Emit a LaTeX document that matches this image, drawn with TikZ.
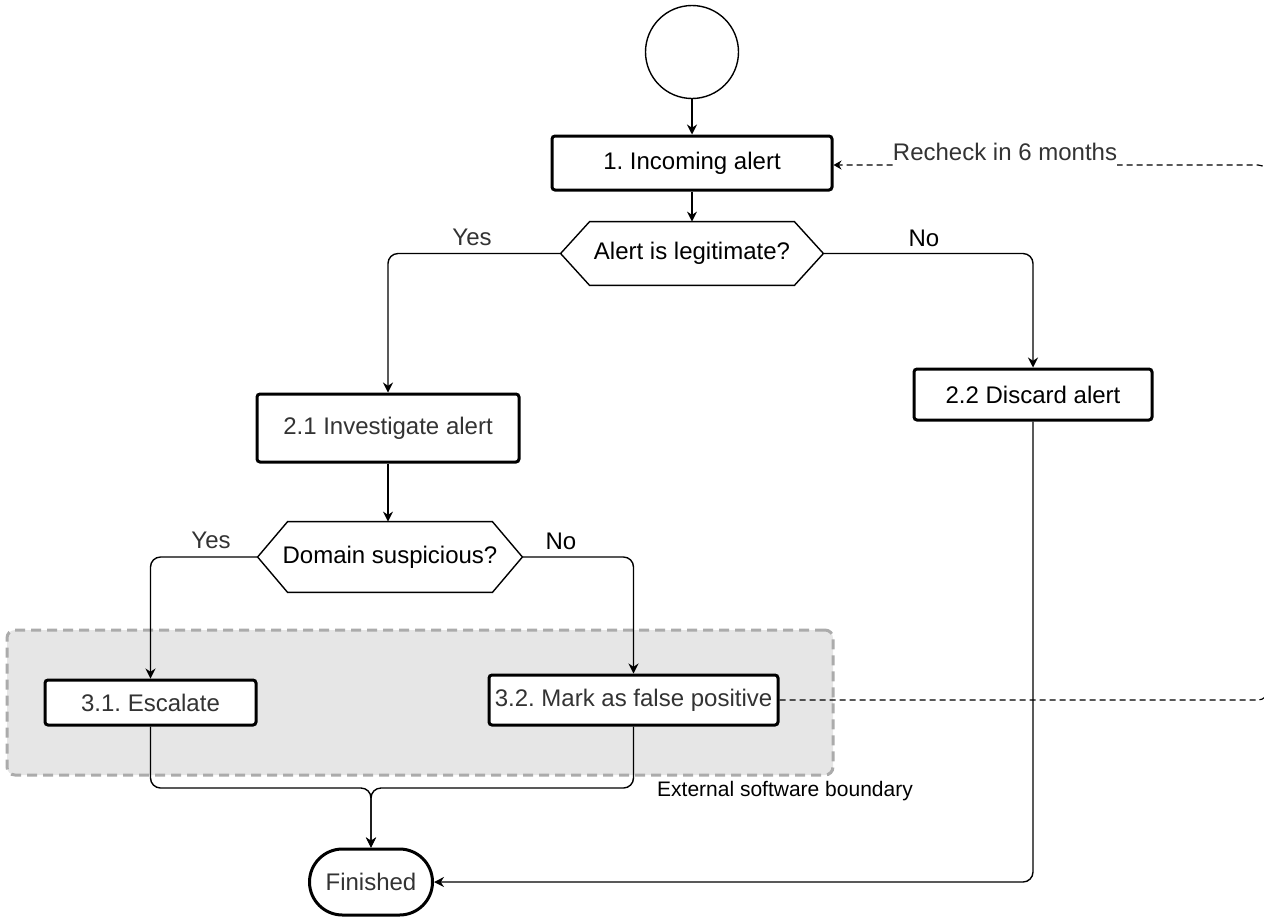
\documentclass[tikz,border=0pt]{standalone}
\usepackage{fontspec}
\setmainfont{Liberation Sans}
\usetikzlibrary{arrows.meta,shapes.misc,calc}
\definecolor{txtgrey}{HTML}{333333}
\definecolor{bndfill}{HTML}{E6E6E6}
\definecolor{bnddraw}{HTML}{ABABAB}
\frenchspacing

% hexagonal decision outline around a named node: #1 = node name, #2 = slant
\newcommand{\hexframe}[2]{%
  \draw[line width=0.7pt] (#1.west) -- ($(#1.north west)+(#2,0)$) -- ($(#1.north east)+(-#2,0)$)
    -- (#1.east) -- ($(#1.south east)+(-#2,0)$) -- ($(#1.south west)+(#2,0)$) -- cycle;}

\begin{document}
\begin{tikzpicture}[x=0.5pt,y=-0.5pt,
  every node/.style={font=\fontsize{12}{14}\selectfont, inner sep=0pt},
  stepbox/.style={draw, line width=1.5pt, rounded corners=1.5pt, fill=white},
  decision/.style={fill=white},
  conn/.style={line width=0.7pt, rounded corners=5pt, -{Stealth[length=5pt,width=5pt]}},
  recheck/.style={line width=0.6pt, dash pattern=on 3pt off 2pt, rounded corners=5pt,
                  -{Stealth[length=4pt,width=4.5pt]}},
  boundary/.style={draw=bnddraw, fill=bndfill, line width=1.5pt, rounded corners=4pt,
                   dash pattern=on 5pt off 3pt},
  edgelabel/.style={font=\fontsize{12}{14}\selectfont}
]
\useasboundingbox (0,0) rectangle (1264,918);
\clip (0,0) rectangle (1264,918);

% external software boundary (drawn first, behind everything)
\node[boundary, minimum width=413pt, minimum height=72.5pt] (ext) at (420,702.5) {};
\node[font=\fontsize{10.5}{12}\selectfont] (extlbl) at (785,791) {External software boundary};

% nodes
\node[draw, circle, line width=0.7pt, minimum size=46.5pt] (start) at (692,52) {};
\node[stepbox, minimum width=140pt, minimum height=27pt] (inc) at (692,163) {1. Incoming alert};
\node[decision, minimum width=131pt, minimum height=31.5pt] (q1) at (692,253.5) {Alert is legitimate?};
\hexframe{q1}{29}
\node[stepbox, minimum width=131pt, minimum height=34pt, text=txtgrey] (inv) at (388,428) {2.1 Investigate alert};
\node[stepbox, minimum width=119pt, minimum height=25.5pt] (dis) at (1033,394.5) {2.2 Discard alert};
\node[decision, minimum width=132pt, minimum height=35pt] (q2) at (390,557) {Domain suspicious?};
\hexframe{q2}{30}
\node[stepbox, minimum width=105.5pt, minimum height=22.5pt, text=txtgrey] (esc) at (150.5,702.5) {3.1. Escalate};
\node[stepbox, minimum width=144.5pt, minimum height=25pt, text=txtgrey] (fp) at (633.5,700) {3.2. Mark as false positive};
\node[draw, rounded rectangle, line width=1.5pt, minimum width=61.5pt, minimum height=33pt, text=txtgrey] (fin) at (371,882) {Finished};

% helper coordinates for the connectors
\coordinate (mrg) at (371,788);
\coordinate (rt) at (1268,700);

% connectors
\draw[conn] (start.south) -- (inc.north);
\draw[conn] (inc.south) -- (q1.north);
\draw[conn] (q1.west) -| (inv.north);
\draw[conn] (q1.east) -| (dis.north);
\draw[conn] (inv.south) -- (inv.south |- q2.north);
\draw[conn] (q2.west) -| (esc.north);
\draw[conn] (q2.east) -| (fp.north);
\draw[conn] (esc.south) |- (mrg) -- (fin.north);
\draw[conn] (fp.south) |- (mrg) -- (fin.north);
\draw[conn] (dis.south) |- (fin.east);
\draw[recheck] (fp.east) -- (fp.east -| rt) |- ($(inc.east)+(0,2)$);

% connector labels
\node[text=txtgrey, fill=white, inner ysep=4pt, text depth=0pt, anchor=base] (rlbl) at (1005,160) {Recheck in 6 months};
\node[edgelabel, text=txtgrey] (yes1) at (472,237) {Yes};
\node[edgelabel] (no1) at (924,238) {No};
\node[edgelabel, text=txtgrey] (yes2) at (211,540) {Yes};
\node[edgelabel] (no2) at (561,541) {No};
\end{tikzpicture}
\end{document}
